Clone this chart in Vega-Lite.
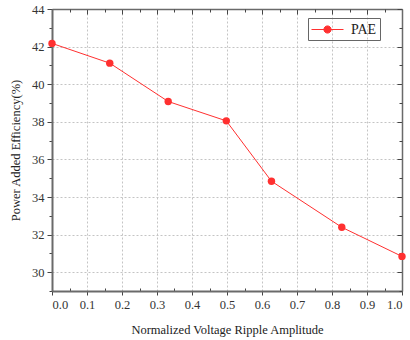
{
  "$schema": "https://vega.github.io/schema/vega-lite/v6.json",
  "width": 350,
  "height": 282,
  "autosize": {"type": "none"},
  "padding": {"left": 52, "top": 9, "right": 8, "bottom": 49},
  "background": "white",
  "config": {
    "font": "Liberation Serif",
    "view": {"stroke": null},
    "axis": {
      "domainColor": "#6a6a6a",
      "domainWidth": 2,
      "tickColor": "#444444",
      "tickWidth": 1,
      "labelFont": "Liberation Serif",
      "labelFontSize": 12.5,
      "labelColor": "#333333",
      "titleFont": "Liberation Serif",
      "titleFontSize": 12.5,
      "titleFontWeight": "normal",
      "titleColor": "#222222"
    }
  },
  "data": {
    "values": [
      {"x": 0.0, "y": 42.17, "s": "PAE"},
      {"x": 0.165, "y": 41.12, "s": "PAE"},
      {"x": 0.332, "y": 39.08, "s": "PAE"},
      {"x": 0.498, "y": 38.05, "s": "PAE"},
      {"x": 0.627, "y": 34.84, "s": "PAE"},
      {"x": 0.828, "y": 32.39, "s": "PAE"},
      {"x": 1.0, "y": 30.84, "s": "PAE"}
    ]
  },
  "layer": [
    {
      "mark": {"type": "point", "opacity": 0},
      "encoding": {
        "x": {"field": "x", "type": "quantitative", "scale": {"domain": [0, 1], "nice": false, "zero": false},
          "axis": {"orient": "top", "labels": false, "title": null, "grid": false, "values": [0,0.1,0.2,0.3,0.4,0.5,0.6,0.7,0.8,0.9,1.0], "tickSize": -5, "domainWidth": 1.5}},
        "y": {"field": "y", "type": "quantitative", "scale": {"domain": [29, 44], "nice": false, "zero": false},
          "axis": {"orient": "right", "labels": false, "title": null, "grid": false, "values": [30,32,34,36,38,40,42,44], "tickSize": -5, "domainWidth": 1.5}}
      }
    },
    {
      "mark": {"type": "point", "opacity": 0},
      "encoding": {
        "x": {"field": "x", "type": "quantitative",
          "axis": {"orient": "top", "labels": false, "title": null, "grid": false, "domain": false, "values": [0.05,0.15,0.25,0.35,0.45,0.55,0.65,0.75,0.85,0.95], "tickSize": -3}},
        "y": {"field": "y", "type": "quantitative",
          "axis": {"orient": "right", "labels": false, "title": null, "grid": false, "domain": false, "values": [29,31,33,35,37,39,41,43], "tickSize": -3}}
      }
    },
    {
      "mark": {"type": "point", "opacity": 0},
      "encoding": {
        "x": {"field": "x", "type": "quantitative",
          "axis": {"orient": "bottom", "labels": false, "title": null, "grid": false, "domain": false, "values": [0.05,0.15,0.25,0.35,0.45,0.55,0.65,0.75,0.85,0.95], "tickSize": -3}},
        "y": {"field": "y", "type": "quantitative",
          "axis": {"orient": "left", "labels": false, "title": null, "grid": false, "domain": false, "values": [29,31,33,35,37,39,41,43], "tickSize": 3}}
      }
    },
    {
      "mark": {"type": "line", "interpolate": "linear", "strokeWidth": 1, "point": {"filled": true, "size": 55, "opacity": 1, "color": "#ff0000"}},
      "encoding": {
        "x": {"field": "x", "type": "quantitative",
          "axis": {"orient": "bottom", "title": "Normalized  Voltage  Ripple Amplitude", "titlePadding": 13, "format": ".1f", "values": [0,0.1,0.2,0.3,0.4,0.5,0.6,0.7,0.8,0.9,1.0], "tickSize": 4, "labelPadding": 3, "grid": true, "gridColor": "#c4c4c4", "gridDash": [2, 2], "gridWidth": 1}},
        "y": {"field": "y", "type": "quantitative",
          "axis": {"orient": "left", "title": "Power Added Efficiency(%)", "titlePadding": 9, "values": [30,32,34,36,38,40,42,44], "tickSize": 5, "labelPadding": 3, "grid": true, "gridColor": "#c4c4c4", "gridDash": [2, 2], "gridWidth": 1}},
        "color": {"field": "s", "type": "nominal", "scale": {"domain": ["PAE"], "range": ["#ff3030"]},
          "legend": {"title": null, "orient": "none", "legendX": 256, "legendY": 9, "symbolType": "M-1,0H3M0.55,0A0.45,0.45,0,1,1,1.45,0A0.45,0.45,0,1,1,0.55,0Z", "symbolSize": 256, "symbolStrokeWidth": 1, "symbolFillColor": "#ff0000", "symbolStrokeColor": "#ff3030", "labelFont": "Liberation Serif", "labelFontSize": 14, "labelColor": "#222222", "labelOffset": 23, "padding": 3, "strokeColor": "#666666"}}
      }
    }
  ],
  "resolve": {"axis": {"x": "independent", "y": "independent"}}
}
